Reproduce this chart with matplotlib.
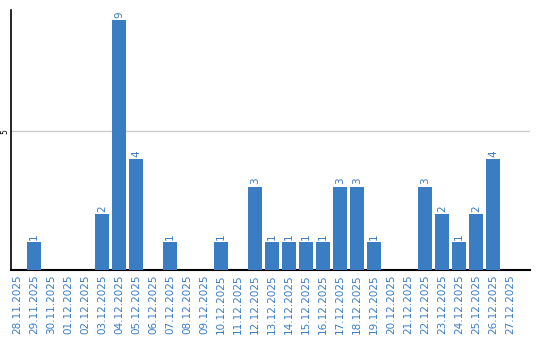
import matplotlib.pyplot as plt

dates = ["28.11.2025", "29.11.2025", "30.11.2025", "01.12.2025", "02.12.2025",
         "03.12.2025", "04.12.2025", "05.12.2025", "06.12.2025", "07.12.2025",
         "08.12.2025", "09.12.2025", "10.12.2025", "11.12.2025", "12.12.2025",
         "13.12.2025", "14.12.2025", "15.12.2025", "16.12.2025", "17.12.2025",
         "18.12.2025", "19.12.2025", "20.12.2025", "21.12.2025", "22.12.2025",
         "23.12.2025", "24.12.2025", "25.12.2025", "26.12.2025", "27.12.2025"]
counts = [0, 1, 0, 0, 0, 2, 9, 4, 0, 1, 0, 0, 1, 0, 3,
          1, 1, 1, 1, 3, 3, 1, 0, 0, 3, 2, 1, 2, 4, 0]

blue = "#3b7dc3"

fig = plt.figure(figsize=(5.4, 3.4), dpi=100)
ax = fig.add_axes([11 / 540, 70 / 340, 519 / 540, 260 / 340])

x = list(range(len(dates)))
ax.bar(x, counts, width=0.82, color=blue, zorder=3)

for xi, v in zip(x, counts):
    if v > 0:
        ax.text(xi, v + 0.08, str(v), rotation=90, ha="center", va="bottom",
                color=blue, fontsize=7.5)

ax.set_xlim(-0.35, 30.18)
ax.set_ylim(0, 9.36)
ax.set_xticks(x)
ax.set_xticklabels(dates, rotation=90, color=blue, fontsize=7.5)
ax.set_yticks([5])
ax.set_yticklabels(["5"], rotation=90, fontsize=5.5, va="center", color="black")
ax.tick_params(axis="x", length=0, pad=3)
ax.tick_params(axis="y", length=0, pad=1.5)
ax.axhline(5, color="#cccccc", linewidth=1, zorder=1)

for s in ["top", "right"]:
    ax.spines[s].set_visible(False)
ax.spines["left"].set_linewidth(1.2)
ax.spines["bottom"].set_linewidth(1.5)

fig.savefig("out.png", dpi=100)
